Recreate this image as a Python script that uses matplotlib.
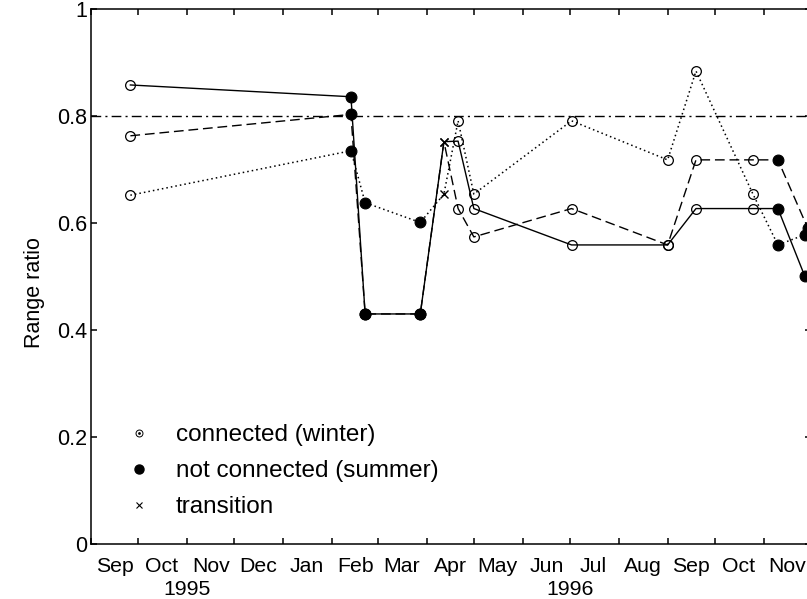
import matplotlib
matplotlib.use("Agg")
import matplotlib.pyplot as plt
import matplotlib.dates as mdates
from matplotlib.lines import Line2D
from matplotlib.ticker import FuncFormatter
import numpy as np
import pandas as pd

plt.rcParams['font.family'] = ['Liberation Sans', 'DejaVu Sans']

# survey dates and the state of the ice at each one
dates = pd.to_datetime(['1995-09-26', '1996-02-13', '1996-02-22', '1996-03-28',
                        '1996-04-12', '1996-04-21', '1996-05-01', '1996-07-02',
                        '1996-09-01', '1996-09-19', '1996-10-25', '1996-11-10',
                        '1996-11-27'])
state = ['c', 'n', 'n', 'n', 't', 'c', 'c', 'c', 'c', 'c', 'c', 'n', 'n']

# range ratio for the three profiles
solid = [0.858, 0.836, 0.43, 0.43, 0.752, 0.753, 0.627, 0.559, 0.559, 0.627, 0.627, 0.627, 0.501]
dotted = [0.652, 0.735, 0.638, 0.601, 0.654, 0.791, 0.654, 0.791, 0.718, 0.884, 0.655, 0.559, 0.578]
# dashed profile, last survey a bit later
dashed_dates = list(dates[:-1]) + [pd.Timestamp('1996-11-29')]
dashed = [0.763, 0.803, 0.43, 0.43, 0.752, 0.627, 0.574, 0.627, 0.559, 0.718, 0.718, 0.718, 0.59]
dashed_state = state[:-1] + ['n']

threshold = 0.8

fig = plt.figure(figsize=(8.07, 5.99), dpi=100)
ax = fig.add_axes([91 / 807, 55 / 599, 720 / 807, 535 / 599])

ax.axhline(threshold, color='k', lw=1.0, ls=(0, (7, 3, 1.5, 3)), zorder=1)

ax.plot(dates, solid, color='k', lw=1.0, ls='-')
ax.plot(dashed_dates, dashed, color='k', lw=1.0, ls=(0, (7, 3.5)))
ax.plot(dates, dotted, color='k', lw=1.1, ls=(0, (1, 2)))

marker_style = {
    'c': dict(marker='o', ms=7, mfc='none', mec='k', mew=0.9),
    'n': dict(marker='o', ms=7.8, mfc='k', mec='k', mew=0.8),
    't': dict(marker='x', ms=5.5, mec='k', mew=1.0),
}

for xs, ys, st in [(dates, solid, state), (dashed_dates, dashed, dashed_state),
                   (dates, dotted, state)]:
    for key, style in marker_style.items():
        px = [x for x, s in zip(xs, st) if s == key]
        py = [y for y, s in zip(ys, st) if s == key]
        ax.plot(px, py, ls='none', **style)

ax.set_xlim(pd.Timestamp('1995-09-01'), pd.Timestamp('1996-12-01'))
ax.set_ylim(0, 1)

ax.xaxis.set_major_locator(mdates.MonthLocator())
ax.xaxis.set_major_formatter(plt.NullFormatter())
ax.xaxis.set_minor_locator(mdates.MonthLocator(bymonthday=16))
ax.xaxis.set_minor_formatter(mdates.DateFormatter('%b'))
ax.set_yticks([0, 0.2, 0.4, 0.6, 0.8, 1.0])
ax.yaxis.set_major_formatter(FuncFormatter(lambda v, p: '%g' % v))

ax.tick_params(which='major', direction='in', length=4.5, width=1.1,
               top=True, right=True, labelsize=15.5, pad=3)
ax.tick_params(axis='x', which='minor', length=0, labelsize=15.3, pad=9)
for sp in ax.spines.values():
    sp.set_linewidth(1.1)

for yr, pos in [('1995', '1995-11-01'), ('1996', '1996-07-01')]:
    ax.text(pd.Timestamp(pos), -0.085, yr, transform=ax.get_xaxis_transform(),
            ha='center', va='center', fontsize=15.3)

ax.set_ylabel('Range ratio', fontsize=15.5)
ax.yaxis.set_label_coords(-0.064, 0.47)

handles = [
    (Line2D([], [], ls='none', marker='o', ms=5, mfc='none', mec='k', mew=0.7),
     Line2D([], [], ls='none', marker='o', ms=1, mfc='k', mec='k')),
    Line2D([], [], ls='none', marker='o', ms=6.5, mfc='k', mec='k'),
    Line2D([], [], ls='none', marker='x', ms=4.5, mec='k', mew=0.8),
]
labels = ['connected (winter)', 'not connected (summer)', 'transition']
ax.legend(handles, labels, loc='upper left', bbox_to_anchor=(115 / 807, 1 - 412 / 599),
          bbox_transform=fig.transFigure, frameon=False, fontsize=17.5,
          handlelength=1.0, handletextpad=1.0, borderpad=0, labelspacing=0.58)

fig.savefig('out.png', dpi=100)
